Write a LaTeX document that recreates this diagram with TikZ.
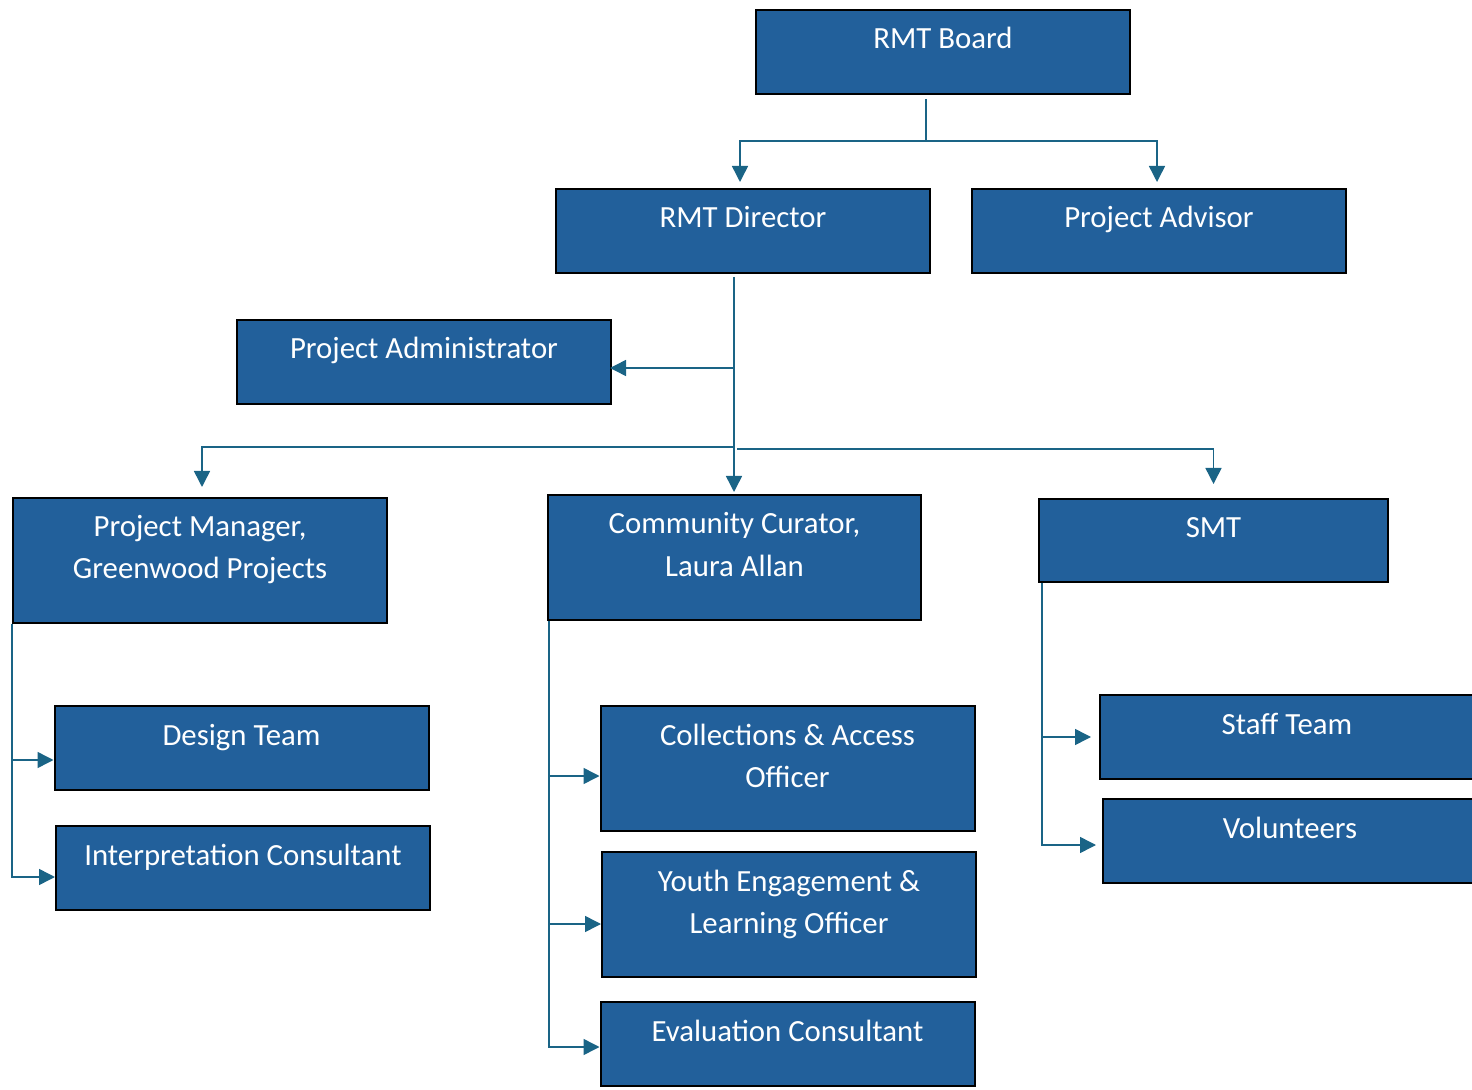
\documentclass[tikz,border=0pt]{standalone}
\usepackage{fontspec}
\setmainfont{Carlito}
\usetikzlibrary{arrows.meta}
\usetikzlibrary{calc}

\definecolor{boxblue}{RGB}{34,96,155}
\definecolor{linkblue}{RGB}{26,100,134}

\begin{document}
\begin{tikzpicture}[x=0.5pt,y=-0.5pt,
	orgbox/.style={draw=black, line width=1pt, fill=boxblue, inner sep=0pt, minimum width=187pt, minimum height=42pt},
	tallbox/.style={orgbox, minimum height=62.5pt},
	boxtext/.style={anchor=base, text=white, align=center, inner sep=0pt, font=\fontsize{15.4}{21}\selectfont},
	conn/.style={draw=linkblue, line width=0.75pt, -{Triangle[length=8pt,width=8pt]}}
	]

	%Frame
	\useasboundingbox (0,0) rectangle (1472,1090);
	\clip (0,0) rectangle (1472,1090);

	%Boxes
	%Top
	\node[orgbox] (board) at (943,52) {};
	\node[orgbox] (director) at (743,231) {};
	\node[orgbox] (advisor) at (1159,231) {};
	\node[orgbox] (admin) at (424,362) {};

	%Middle
	\node[tallbox] (pm) at (200,560.5) {};
	\node[tallbox, minimum width=186.5pt] (curator) at (734.5,557.5) {};
	\node[orgbox, minimum width=174.5pt, minimum height=41.5pt] (smt) at (1213.5,540.5) {};

	%Bottom
	\node[orgbox] (design) at (241.5,748) {};
	\node[orgbox] (interp) at (243,868) {};
	\node[tallbox] (coll) at (787.5,768.5) {};
	\node[tallbox] (youth) at (789,914.5) {};
	\node[orgbox] (eval) at (787.5,1044) {};
	\node[orgbox] (staff) at (1287,737) {};
	\node[orgbox] (volun) at (1290,841) {};

	%Texts (base = last line)
	\node[boxtext] (boardtxt) at ([yshift=-20pt]board.north) {RMT Board};
	\node[boxtext] (directortxt) at ([yshift=-20pt]director.north) {RMT Director};
	\node[boxtext] (advisortxt) at ([yshift=-20pt]advisor.north) {Project Advisor};
	\node[boxtext] (admintxt) at ([yshift=-20pt]admin.north) {Project Administrator};
	\node[boxtext] (pmtxt) at ([yshift=-41pt]pm.north) {Project Manager,\\Greenwood Projects};
	\node[boxtext] (curatortxt) at ([yshift=-41pt]curator.north) {Community Curator,\\Laura Allan};
	\node[boxtext] (smttxt) at ([yshift=-20pt]smt.north) {SMT};
	\node[boxtext] (designtxt) at ([yshift=-20pt]design.north) {Design Team};
	\node[boxtext] (interptxt) at ([yshift=-20pt]interp.north) {Interpretation Consultant};
	\node[boxtext] (colltxt) at ([yshift=-41pt]coll.north) {Collections \& Access\\Officer};
	\node[boxtext] (youthtxt) at ([yshift=-41pt]youth.north) {Youth Engagement \&\\Learning Officer};
	\node[boxtext] (evaltxt) at ([yshift=-20pt]eval.north) {Evaluation Consultant};
	\node[boxtext] (stafftxt) at ([yshift=-20pt]staff.north) {Staff Team};
	\node[boxtext] (voluntxt) at ([yshift=-20pt]volun.north) {Volunteers};

	%Connectors
	%Board
	\coordinate (boardout) at (926,99);
	\coordinate (boardjoin) at (926,141);
	\draw[draw=linkblue, line width=0.75pt] (boardout) -- (boardjoin);
	\draw[conn, shorten >=3pt] (boardjoin) -| ([xshift=-1.5pt]director.north);
	\draw[conn, shorten >=3pt] (boardjoin) -| ([xshift=-1pt]advisor.north);

	%Director
	\coordinate (dirout) at (734,277);
	\coordinate (diradmin) at (734,368);
	\coordinate (dirleft) at (734,447);
	\coordinate (dirright) at (737,449);
	\draw[conn, shorten >=1pt] (dirout) -- (dirout |- curator.north);
	\draw[conn, shorten >=-1pt] (diradmin) -- (diradmin -| admin.east);
	\draw[conn, shorten >=5pt] (dirleft) -| ([xshift=1pt]pm.north);
	\draw[conn, shorten >=7pt] (dirright) -| (smt.north);

	%Project Manager
	\draw[conn] (pm.south west) |- ([yshift=-6pt]design.west);
	\draw[conn] (pm.south west) |- ([yshift=-4.5pt]interp.west);

	%Curator
	\draw[conn] ([xshift=1pt]curator.south west) |- ([yshift=-3.75pt]coll.west);
	\draw[conn] ([xshift=1pt]curator.south west) |- ([yshift=-4.75pt]youth.west);
	\draw[conn] ([xshift=1pt]curator.south west) |- ([yshift=-1.5pt]eval.west);

	%SMT
	\draw[conn, shorten >=4pt] ([xshift=2pt]smt.south west) |- (staff.west);
	\draw[conn, shorten >=3pt] ([xshift=2pt]smt.south west) |- ([yshift=-2pt]volun.west);

\end{tikzpicture}
\end{document}
